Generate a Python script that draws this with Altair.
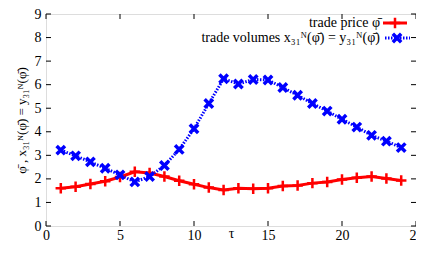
import altair as alt
import pandas as pd

tau = list(range(1, 25))
price = [1.60, 1.67, 1.78, 1.90, 2.08, 2.30, 2.25, 2.10, 1.92, 1.77, 1.63, 1.53,
         1.60, 1.58, 1.60, 1.70, 1.72, 1.82, 1.87, 1.97, 2.05, 2.10, 2.02, 1.93]
volume = [3.22, 2.98, 2.72, 2.45, 2.17, 1.87, 2.10, 2.57, 3.25, 4.13, 5.20, 6.25,
          6.03, 6.22, 6.20, 5.88, 5.55, 5.20, 4.88, 4.53, 4.20, 3.85, 3.60, 3.33]
x_ticks = [0, 5, 10, 15, 20, 25]
y_ticks = [0, 1, 2, 3, 4, 5, 6, 7, 8, 9]
legend_price = "trade price φ\u0304"
legend_volume = "trade volumes x\u2083\u2081\u1d3a(φ\u0304) = y\u2083\u2081\u1d3a(φ\u0304)"
y_title = "φ\u0304 , x\u2083\u2081\u1d3a(φ\u0304) = y\u2083\u2081\u1d3a(φ\u0304)"

W, H = 370, 212
TOP = 6
FONT = "Liberation Serif"
RED = "#ff0000"
BLUE = "#0000ff"
PLUS = "M-1,0L1,0M0,-1L0,1"
XSHAPE = "M-1,-1L1,1M-1,1L1,-1"

df = pd.DataFrame({"tau": tau, "price": price, "volume": volume})
xt = pd.DataFrame({"v": x_ticks})
yt = pd.DataFrame({"v": y_ticks})

xs = alt.Scale(domain=[0, 25], nice=False, zero=False)
ys = alt.Scale(domain=[0, 9], nice=False, zero=False)

XA = alt.Axis(
    values=x_ticks, title="τ", ticks=False, domain=False, grid=False,
    labelPadding=2, format="d", labelOverlap=False,
    titleY=0, titleBaseline="top",
    labelFont=FONT, titleFont=FONT, labelFontSize=14, titleFontSize=14,
    titleFontWeight="normal", labelColor="black", titleColor="black",
    labelFlush=False)
YA = alt.Axis(
    values=y_ticks, title=y_title, ticks=False, domain=False, grid=False,
    labelPadding=5, titlePadding=6, labelOverlap=False,
    labelFont=FONT, titleFont=FONT, labelFontSize=14, titleFontSize=13,
    titleFontWeight="normal", labelColor="black", titleColor="black",
    labelFlush=False)


def xe(f):
    return alt.X(f, scale=xs, axis=XA)


def ye(f):
    return alt.Y(f, scale=ys, axis=YA)


base = alt.Chart(df)
price_line = base.mark_line(color=RED, strokeWidth=3).encode(x=xe("tau:Q"), y=ye("price:Q"))
price_pts = base.mark_point(shape=PLUS, color=RED, strokeWidth=2.5, size=110, opacity=1).encode(
    x=xe("tau:Q"), y=ye("price:Q"))
vol_line = base.mark_line(color=BLUE, strokeWidth=3, strokeDash=[1.5, 1.5]).encode(
    x=xe("tau:Q"), y=ye("volume:Q"))
vol_pts = base.mark_point(shape=XSHAPE, color=BLUE, strokeWidth=3.5, size=70, opacity=1).encode(
    x=xe("tau:Q"), y=ye("volume:Q"))

tick_len = 5
xb = alt.Chart(xt).mark_rule(color="black", strokeWidth=1).encode(
    x=xe("v:Q"), y=alt.value(H), y2=alt.value(H - tick_len))
xtp = alt.Chart(xt).mark_rule(color="black", strokeWidth=1).encode(
    x=xe("v:Q"), y=alt.value(0), y2=alt.value(tick_len))
yl = alt.Chart(yt).mark_rule(color="black", strokeWidth=1).encode(
    y=ye("v:Q"), x=alt.value(0), x2=alt.value(tick_len))
yr = alt.Chart(yt).mark_rule(color="black", strokeWidth=1).encode(
    y=ye("v:Q"), x=alt.value(W), x2=alt.value(W - tick_len))


def one(label):
    return alt.Chart(pd.DataFrame({"label": [label]}))


LX = 334
R1, R2 = 9, 24
leg_price_text = one(legend_price).mark_text(
    align="right", baseline="middle", font=FONT, fontSize=14, color="black").encode(
    x=alt.value(LX), y=alt.value(R1), text="label:N")
leg_vol_text = one(legend_volume).mark_text(
    align="right", baseline="middle", font=FONT, fontSize=14, color="black").encode(
    x=alt.value(LX), y=alt.value(R2), text="label:N")
leg_price_line = one(legend_price).mark_rule(color=RED, strokeWidth=3).encode(
    x=alt.value(LX + 3), x2=alt.value(LX + 27), y=alt.value(R1))
leg_price_pt = one(legend_price).mark_point(
    shape=PLUS, color=RED, strokeWidth=2.5, size=110, opacity=1).encode(
    x=alt.value(LX + 15), y=alt.value(R1))
leg_vol_line = one(legend_volume).mark_rule(
    color=BLUE, strokeWidth=3, strokeDash=[1.5, 1.5]).encode(
    x=alt.value(LX + 5), x2=alt.value(LX + 30), y=alt.value(R2))
leg_vol_pt = one(legend_volume).mark_point(
    shape=XSHAPE, color=BLUE, strokeWidth=3.5, size=70, opacity=1).encode(
    x=alt.value(LX + 17), y=alt.value(R2))

chart = alt.layer(
    price_line, vol_line, price_pts, vol_pts, xb, xtp, yl, yr,
    leg_price_text, leg_vol_text, leg_price_line, leg_price_pt, leg_vol_line, leg_vol_pt
).properties(
    width=W, height=H,
    autosize=alt.AutoSizeParams(type="none"),
    padding={"left": 38, "top": TOP, "right": 0, "bottom": 15},
).configure_view(stroke="black", strokeWidth=1).configure(background="white")

chart.save("out.html", embed_options={"renderer": "svg", "actions": False})
